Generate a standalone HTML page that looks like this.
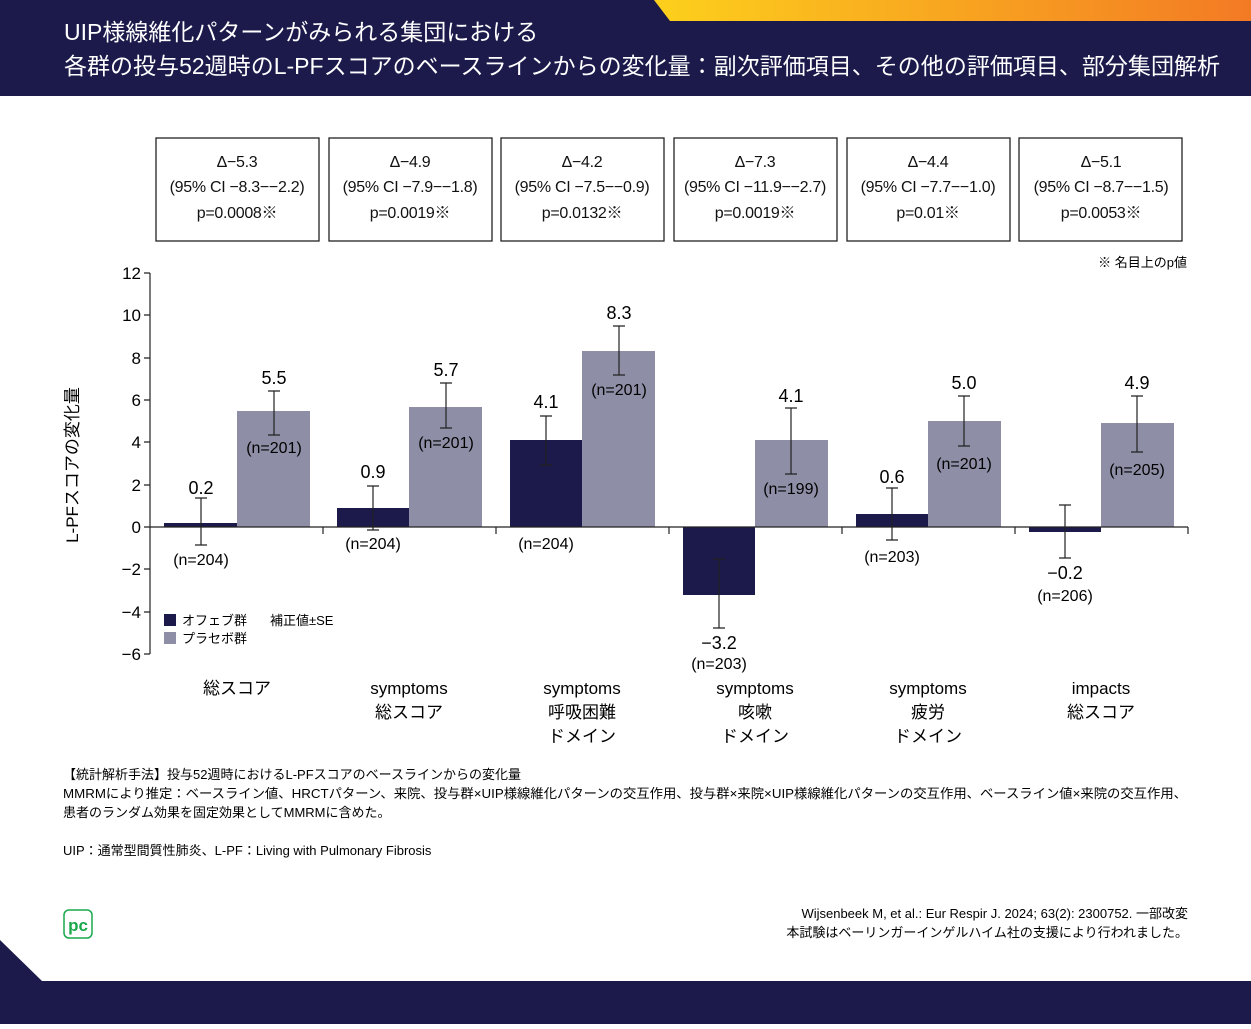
<!DOCTYPE html><html><head><meta charset="utf-8"><style>
body{margin:0;width:1251px;height:1024px;overflow:hidden;background:#fff;font-family:"Liberation Sans","Noto Sans CJK JP",sans-serif;}
</style></head><body>
<svg width="1251" height="1024" xmlns="http://www.w3.org/2000/svg" font-family="Liberation Sans, Noto Sans CJK JP, sans-serif">
<defs><linearGradient id="g" x1="0" x2="1"><stop offset="0" stop-color="#fdd01c"/><stop offset="1" stop-color="#f37a24"/></linearGradient></defs>
<rect x="0" y="0" width="1251" height="96" fill="#1b1a4b"/>
<polygon points="654,0 1251,0 1251,21 670,21" fill="url(#g)"/>
<text x="64" y="40" fill="#fff" font-size="23">UIP様線維化パターンがみられる集団における</text>
<text x="64" y="74" fill="#fff" font-size="23" textLength="1156" lengthAdjust="spacingAndGlyphs">各群の投与52週時のL-PFスコアのベースラインからの変化量：副次評価項目、その他の評価項目、部分集団解析</text>
<polygon points="0,940 42,981 1251,981 1251,1024 0,1024" fill="#1b1a4b"/>
<g font-size="16" text-anchor="middle" fill="#111">
<g fill="none" stroke="#222" stroke-width="1.3">
<rect x="156" y="138" width="163" height="103"/><rect x="329" y="138" width="163" height="103"/><rect x="501" y="138" width="163" height="103"/><rect x="674" y="138" width="163" height="103"/><rect x="847" y="138" width="163" height="103"/><rect x="1019" y="138" width="163" height="103"/></g>
<g font-size="16" letter-spacing="-0.3">
<text x="237" y="167">Δ−5.3</text><text x="237" y="192">(95% CI −8.3−−2.2)</text><text x="237" y="218">p=0.0008※</text>
<text x="410" y="167">Δ−4.9</text><text x="410" y="192">(95% CI −7.9−−1.8)</text><text x="410" y="218">p=0.0019※</text>
<text x="582" y="167">Δ−4.2</text><text x="582" y="192">(95% CI −7.5−−0.9)</text><text x="582" y="218">p=0.0132※</text>
<text x="755" y="167">Δ−7.3</text><text x="755" y="192">(95% CI −11.9−−2.7)</text><text x="755" y="218">p=0.0019※</text>
<text x="928" y="167">Δ−4.4</text><text x="928" y="192">(95% CI −7.7−−1.0)</text><text x="928" y="218">p=0.01※</text>
<text x="1101" y="167">Δ−5.1</text><text x="1101" y="192">(95% CI −8.7−−1.5)</text><text x="1101" y="218">p=0.0053※</text>
</g></g>
<text x="1187" y="267" font-size="13" text-anchor="end">※ 名目上のp値</text>
<g fill="#1b1a4b"><rect x="164" y="523" width="73" height="4"/><rect x="337" y="508" width="72" height="19"/><rect x="510" y="440" width="72" height="87"/><rect x="683" y="527" width="72" height="68"/><rect x="856" y="514" width="72" height="13"/><rect x="1029" y="527" width="72" height="5"/></g>
<g fill="#8e8ea6"><rect x="237" y="411" width="73" height="116"/><rect x="409" y="407" width="73" height="120"/><rect x="582" y="351" width="73" height="176"/><rect x="755" y="440" width="73" height="87"/><rect x="928" y="421" width="73" height="106"/><rect x="1101" y="423" width="73" height="104"/></g>
<g stroke="#222" stroke-width="1.2" fill="none">
<line x1="150" y1="273" x2="150" y2="654"/>
<line x1="150" y1="527" x2="1188" y2="527"/>
<path d="M144 273H150M144 315H150M144 358H150M144 400H150M144 442H150M144 485H150M144 527H150M144 569H150M144 612H150M144 654H150"/>
<path d="M323 527V534M496 527V534M669 527V534M842 527V534M1015 527V534M1188 527V534"/>
<path d="M201 498V545M195 498H207M195 545H207"/>
<path d="M274 391V435M268 391H280M268 435H280"/>
<path d="M373 486V530M367 486H379M367 530H379"/>
<path d="M446 383V428M440 383H452M440 428H452"/>
<path d="M546 416V465M540 416H552M540 465H552"/>
<path d="M619 326V375M613 326H625M613 375H625"/>
<path d="M719 559V628M713 559H725M713 628H725"/>
<path d="M791 408V474M785 408H797M785 474H797"/>
<path d="M892 488V540M886 488H898M886 540H898"/>
<path d="M964 396V446M958 396H970M958 446H970"/>
<path d="M1065 505V558M1059 505H1071M1059 558H1071"/>
<path d="M1137 396V452M1131 396H1143M1131 452H1143"/>
</g>
<g font-size="17" text-anchor="end"><text x="141" y="279">12</text><text x="141" y="321">10</text><text x="141" y="364">8</text><text x="141" y="406">6</text><text x="141" y="448">4</text><text x="141" y="491">2</text><text x="141" y="533">0</text><text x="141" y="575">−2</text><text x="141" y="618">−4</text><text x="141" y="660">−6</text></g>
<text transform="translate(78,465) rotate(-90)" font-size="17" text-anchor="middle">L-PFスコアの変化量</text>
<g font-size="18" text-anchor="middle">
<text x="201" y="494">0.2</text><text x="274" y="384">5.5</text><text x="373" y="478">0.9</text><text x="446" y="376">5.7</text><text x="546" y="408">4.1</text><text x="619" y="319">8.3</text><text x="719" y="649">−3.2</text><text x="791" y="402">4.1</text><text x="892" y="483">0.6</text><text x="964" y="389">5.0</text><text x="1065" y="579">−0.2</text><text x="1137" y="389">4.9</text>
</g>
<g font-size="16" text-anchor="middle">
<text x="201" y="565">(n=204)</text><text x="274" y="453">(n=201)</text><text x="373" y="549">(n=204)</text><text x="446" y="448">(n=201)</text><text x="546" y="549">(n=204)</text><text x="619" y="395">(n=201)</text><text x="719" y="669">(n=203)</text><text x="791" y="494">(n=199)</text><text x="892" y="562">(n=203)</text><text x="964" y="469">(n=201)</text><text x="1065" y="601">(n=206)</text><text x="1137" y="475">(n=205)</text>
</g>
<rect x="164" y="614" width="12" height="12" fill="#1b1a4b"/><rect x="164" y="632" width="12" height="12" fill="#8e8ea6"/>
<g font-size="13"><text x="182" y="625">オフェブ群</text><text x="182" y="643">プラセボ群</text><text x="270" y="625">補正値±SE</text></g>
<g font-size="17" text-anchor="middle">
<text x="237" y="694">総スコア</text>
<text x="409" y="694">symptoms</text><text x="409" y="718">総スコア</text>
<text x="582" y="694">symptoms</text><text x="582" y="718">呼吸困難</text><text x="582" y="742">ドメイン</text>
<text x="755" y="694">symptoms</text><text x="755" y="718">咳嗽</text><text x="755" y="742">ドメイン</text>
<text x="928" y="694">symptoms</text><text x="928" y="718">疲労</text><text x="928" y="742">ドメイン</text>
<text x="1101" y="694">impacts</text><text x="1101" y="718">総スコア</text>
</g>
<g font-size="13">
<text x="63" y="779">【統計解析手法】投与52週時におけるL-PFスコアのベースラインからの変化量</text>
<text x="63" y="798" textLength="1124" lengthAdjust="spacingAndGlyphs">MMRMにより推定：ベースライン値、HRCTパターン、来院、投与群×UIP様線維化パターンの交互作用、投与群×来院×UIP様線維化パターンの交互作用、ベースライン値×来院の交互作用、</text>
<text x="63" y="817">患者のランダム効果を固定効果としてMMRMに含めた。</text>
<text x="63" y="855">UIP：通常型間質性肺炎、L-PF：Living with Pulmonary Fibrosis</text>
<text x="1188" y="918" text-anchor="end">Wijsenbeek M, et al.: Eur Respir J. 2024; 63(2): 2300752. 一部改変</text>
<text x="1188" y="937" text-anchor="end">本試験はベーリンガーインゲルハイム社の支援により行われました。</text>
</g>
<rect x="64" y="910" width="28" height="28" rx="5" fill="none" stroke="#1aa84a" stroke-width="1.5"/>
<text x="78" y="931" font-size="17" font-weight="bold" fill="#1aa84a" text-anchor="middle">pc</text>
</svg>
</body></html>
